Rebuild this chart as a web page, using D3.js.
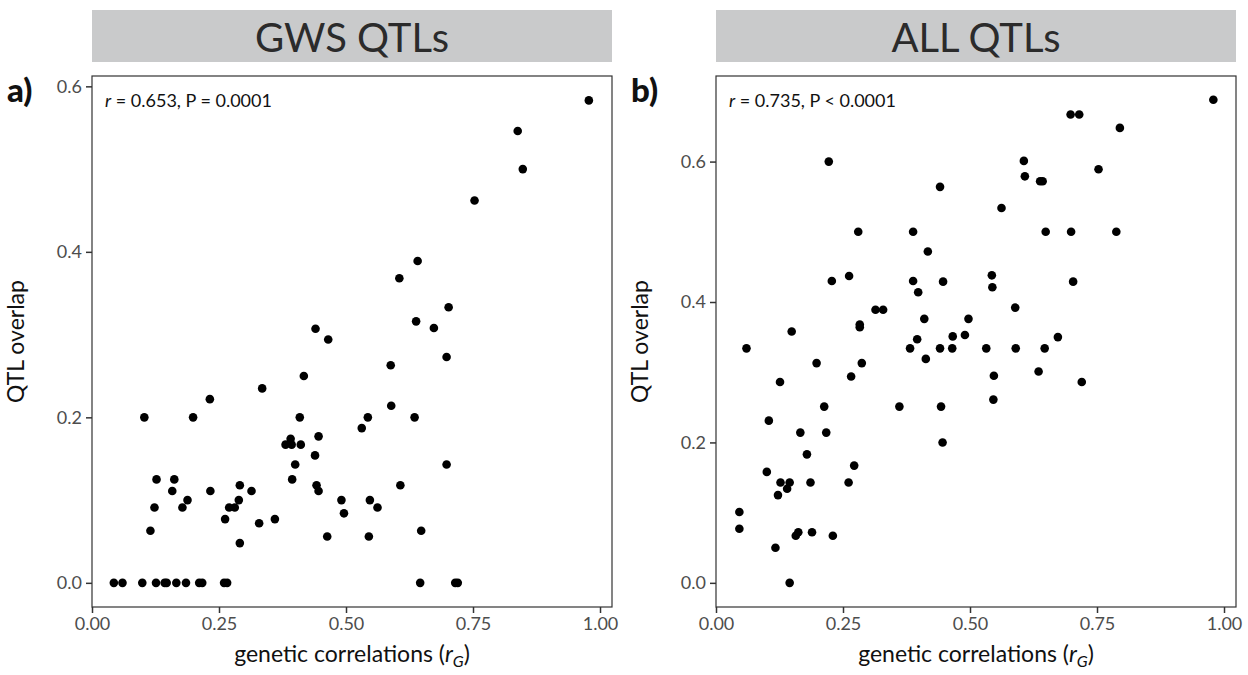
<!DOCTYPE html>
<html>
<head>
<meta charset="utf-8">
<script src="https://cdn.jsdelivr.net/npm/d3@7"></script>
<style>
  body { margin: 0; background: #fff; }
  svg { font-family: Lato, "Open Sans", sans-serif; }
</style>
</head>
<body>
<svg id="chart" width="1248" height="675"></svg>
<script>
// ticks
var xTicks = [0, 0.25, 0.5, 0.75, 1.0];
var yTicksA = [0, 0.2, 0.4, 0.6];
var yTicksB = [0, 0.2, 0.4, 0.6];

// panel a: GWS QTLs  [genetic correlation, QTL overlap]
var gwsPoints = [
  [0.043,0],[0.060,0],[0.099,0],[0.126,0],[0.143,0],[0.147,0],[0.166,0],[0.185,0],
  [0.211,0],[0.217,0],[0.260,0],[0.266,0],[0.646,0],[0.715,0],[0.720,0],
  [0.978,0.583],[0.838,0.546],[0.848,0.500],[0.753,0.462],
  [0.641,0.389],[0.605,0.368],[0.702,0.333],[0.638,0.316],[0.673,0.308],[0.440,0.307],
  [0.465,0.294],[0.698,0.273],[0.588,0.263],[0.417,0.250],[0.335,0.235],[0.232,0.222],
  [0.589,0.214],[0.103,0.200],[0.199,0.200],[0.409,0.200],[0.543,0.200],[0.635,0.200],
  [0.531,0.187],[0.446,0.177],[0.391,0.174],[0.381,0.167],[0.393,0.167],[0.411,0.167],
  [0.439,0.154],[0.400,0.143],[0.698,0.143],[0.127,0.125],[0.162,0.125],[0.394,0.125],
  [0.442,0.118],[0.291,0.118],[0.607,0.118],[0.158,0.111],[0.233,0.111],[0.314,0.111],
  [0.446,0.111],[0.188,0.100],[0.289,0.100],[0.491,0.100],[0.547,0.100],[0.123,0.091],
  [0.178,0.091],[0.270,0.091],[0.281,0.091],[0.562,0.091],[0.496,0.084],[0.262,0.077],
  [0.360,0.077],[0.329,0.072],[0.115,0.063],[0.648,0.063],[0.463,0.056],[0.545,0.056],
  [0.291,0.048]
];

// panel b: ALL QTLs
var allPoints = [
  [0.979,0.688],[0.698,0.667],[0.715,0.667],[0.795,0.648],[0.606,0.601],[0.222,0.600],
  [0.753,0.589],[0.608,0.579],[0.638,0.572],[0.643,0.572],[0.441,0.564],[0.562,0.534],
  [0.280,0.500],[0.388,0.500],[0.649,0.500],[0.699,0.500],[0.788,0.500],[0.417,0.472],
  [0.262,0.437],[0.543,0.438],[0.228,0.430],[0.388,0.430],[0.447,0.429],[0.703,0.429],
  [0.544,0.421],[0.398,0.414],[0.589,0.392],[0.314,0.389],[0.329,0.389],[0.410,0.376],
  [0.497,0.376],[0.283,0.368],[0.283,0.364],[0.149,0.358],[0.466,0.351],[0.490,0.353],
  [0.673,0.350],[0.396,0.347],[0.060,0.334],[0.382,0.334],[0.441,0.334],[0.465,0.334],
  [0.532,0.334],[0.590,0.334],[0.647,0.334],[0.413,0.319],[0.198,0.313],[0.287,0.313],
  [0.635,0.301],[0.266,0.294],[0.547,0.295],[0.126,0.286],[0.720,0.286],[0.546,0.261],
  [0.213,0.251],[0.361,0.251],[0.443,0.251],[0.104,0.231],[0.166,0.214],[0.217,0.214],
  [0.446,0.200],[0.179,0.183],[0.272,0.167],[0.100,0.158],[0.127,0.143],[0.145,0.143],
  [0.186,0.143],[0.261,0.143],[0.140,0.134],[0.122,0.125],[0.046,0.101],[0.046,0.077],
  [0.162,0.072],[0.157,0.067],[0.189,0.072],[0.230,0.067],[0.117,0.050],[0.145,0.000]
];

var panels = [
  { left: 92, title: "GWS QTLs", tag: "a)", stat: ["0.653", "= 0.0001"], pts: gwsPoints, yTicks: yTicksA, yDom: [-0.0292, 0.6125] },
  { left: 716, title: "ALL QTLs", tag: "b)", stat: ["0.735", "< 0.0001"], pts: allPoints, yTicks: yTicksB, yDom: [-0.0344, 0.7219] }
];

function draw() {
  var svg = d3.select("#chart");
  var plotTop = 76, plotBottom = 607, w = 520;
  var ink = "#333333";

  panels.forEach(function(p) {
    var x = d3.scaleLinear().domain([0, 1.0236]).range([p.left, p.left + w]);
    var y = d3.scaleLinear().domain(p.yDom).range([plotBottom, plotTop]);

    // strip title
    svg.append("rect")
      .attr("x", p.left).attr("y", 10).attr("width", w).attr("height", 52)
      .attr("fill", "#c9cacb");
    svg.append("text")
      .attr("x", p.left + w / 2).attr("y", 52)
      .attr("text-anchor", "middle")
      .style("font-size", "40px")
      .attr("fill", "#2b2b2b")
      .text(p.title);

    // panel tag
    svg.append("text")
      .attr("x", p.left - 85).attr("y", 102)
      .style("font-size", "33px").style("font-weight", 900)
      .attr("fill", "#111")
      .text(p.tag);

    // panel box
    svg.append("rect")
      .attr("x", p.left).attr("y", plotTop).attr("width", w).attr("height", plotBottom - plotTop)
      .attr("fill", "none").attr("stroke", ink).attr("stroke-width", 1.2);

    // axes
    var ax = svg.append("g").attr("transform", "translate(0," + plotBottom + ")")
      .call(d3.axisBottom(x).tickValues(xTicks).tickFormat(d3.format(".2f")).tickSize(6).tickPadding(4));
    var ay = svg.append("g").attr("transform", "translate(" + p.left + ",0)")
      .call(d3.axisLeft(y).tickValues(p.yTicks).tickFormat(d3.format(".1f")).tickSize(6).tickPadding(4));
    [ax, ay].forEach(function(g) {
      g.select(".domain").remove();
      g.selectAll("line").attr("stroke", ink).attr("stroke-width", 1.5);
      g.selectAll("text").attr("fill", "#4d4d4d").style("font-size", "18px")
        .style("font-family", "Lato, sans-serif");
    });

    // points
    svg.append("g").selectAll("circle")
      .data(p.pts)
      .enter()
      .append("circle")
      .attr("cx", function(d) { return x(d[0]); })
      .attr("cy", function(d) { return y(d[1]); })
      .attr("r", 4.3)
      .attr("fill", "#000");

    // stat annotation
    var st = svg.append("text")
      .attr("x", p.left + 13).attr("y", 107)
      .style("font-size", "18px").attr("fill", "#111");
    st.append("tspan").style("font-style", "italic").text("r");
    st.append("tspan").text(" = " + p.stat[0] + ", P " + p.stat[1]);

    // x axis title
    var xt = svg.append("text")
      .attr("x", p.left + w / 2).attr("y", 662)
      .attr("text-anchor", "middle")
      .style("font-size", "23px").attr("fill", "#111");
    xt.append("tspan").text("genetic correlations (");
    xt.append("tspan").style("font-style", "italic").text("r");
    xt.append("tspan").style("font-style", "italic").style("font-size", "16px").attr("dy", 5).text("G");
    xt.append("tspan").attr("dy", -5).text(")");

    // y axis title
    svg.append("text")
      .attr("transform", "translate(" + (p.left - 68) + "," + ((plotTop + plotBottom) / 2) + ") rotate(-90)")
      .attr("text-anchor", "middle")
      .style("font-size", "23px").attr("fill", "#111")
      .text("QTL overlap");
  });
}

draw();
</script>
</body>
</html>
